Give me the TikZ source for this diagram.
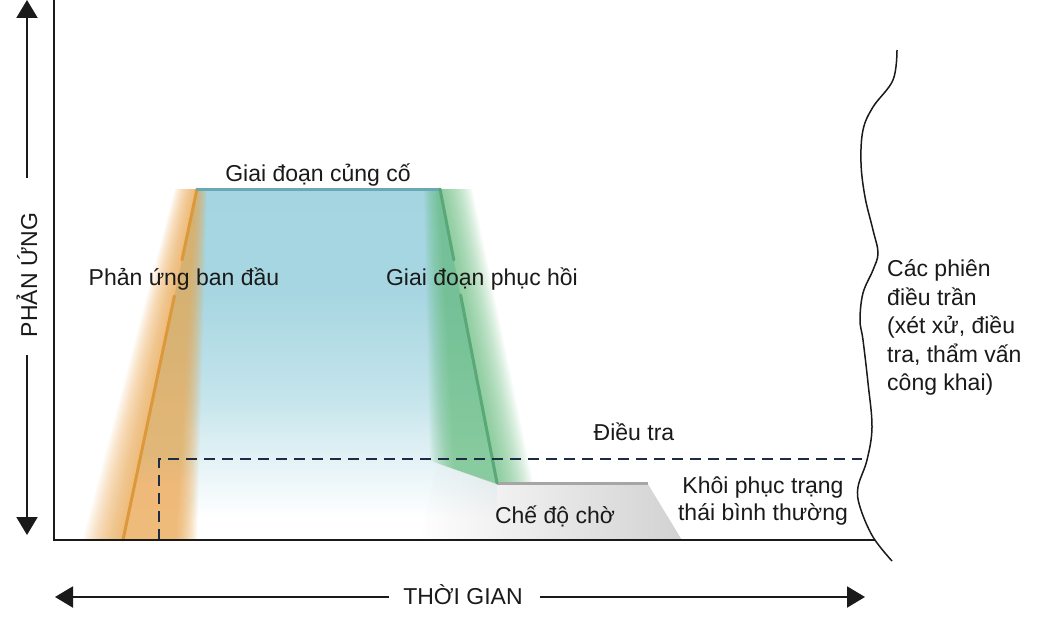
\documentclass[tikz,border=0pt]{standalone}
\usepackage{fontspec}
\setmainfont{Liberation Sans}
\usetikzlibrary{arrows.meta,fadings}
\definecolor{blueC}{HTML}{A2D4E0}
\definecolor{orangeLine}{HTML}{DC993C}
\definecolor{orangeGlow}{HTML}{EFAA50}
\definecolor{greenLine}{HTML}{5AA878}
\definecolor{greenGlow}{HTML}{68C080}
\definecolor{tealLine}{HTML}{68A9B5}
\definecolor{dashC}{HTML}{1E2B47}
\definecolor{grayC}{HTML}{D2D2D2}
\definecolor{grayLine}{HTML}{A6A6A6}
\definecolor{inkC}{HTML}{1A1A1A}
\pgfdeclareverticalshading{bluefade}{100bp}{color(0bp)=(white); color(28bp)=(white); color(36bp)=(blueC!28); color(45bp)=(blueC!62); color(60bp)=(blueC!95); color(100bp)=(blueC)}
\tikzfading[name=grayfadeop, left color=transparent!100, middle color=transparent!20, right color=transparent!0]
\begin{document}
\begin{tikzpicture}[x=1pt,y=-1pt,
  lbl/.style={font=\fontsize{23}{28.5}\selectfont, inner sep=0pt, anchor=base, text=inkC},
  lblw/.style={lbl, anchor=base west},
  arr/.style={line width=2pt, inkC, -{Triangle[width=21pt,length=18pt]}},
  stage/.style={line width=3pt, line cap=round}]
\useasboundingbox (0,0) rectangle (1038,618);
\fill[white] (0,0) rectangle (1038,618);

% blue body
\shade[shading=bluefade] (197,189) -- (440,189) -- (497,483) -- (497,540) -- (123,540) -- cycle;

% orange glow
\foreach \k in {1,...,20}{
  \pgfmathsetmacro\f{\k/20}
  \fill[orangeGlow, opacity=0.062] ({197-22*\f},189) -- ({195+12*\f},189) -- ({175+22*\f},540) -- ({123-40*\f},540) -- cycle;
}
% green glow (lower edge follows the standby wedge)
\foreach \k in {1,...,20}{
  \pgfmathsetmacro\f{\k/20}
  \pgfmathsetmacro\xl{456-26*\f}
  \pgfmathsetmacro\yl{463+0.35*(\xl-437)}
  \fill[greenGlow, opacity=0.058] ({440-16*\f},189) -- ({440+32*\f},189) -- ({497+36*\f},483) -- (497,484) -- (\xl,\yl) -- cycle;
}

% gray standby region
\fill[grayC, path fading=grayfadeop] (437,463) -- (497,484) -- (648,484) -- (682,540) -- (420,540) -- cycle;

% named points
\coordinate (oB) at (123,540);
\coordinate (oG1) at (174.4,296);
\coordinate (oG2) at (182,260);
\coordinate (tL) at (197,189);
\coordinate (tR) at (440,189);
\coordinate (gG1) at (453.8,260);
\coordinate (gG2) at (460.6,295);
\coordinate (gB) at (497,483);
\coordinate (sR) at (648,483);

\draw[grayLine, line width=3pt] (gB) -- (sR);
\draw[stage, orangeLine] (oB) -- (oG1);
\draw[stage, orangeLine] (oG2) -- (tL);
\draw[stage, tealLine] (tL) -- (tR);
\draw[stage, greenLine] (tR) -- (gG1);
\draw[stage, greenLine] (gG2) -- (gB);

% dashed investigation line
\coordinate (d0) at (159,540);
\coordinate (d1) at (159,459);
\coordinate (d2) at (862,459);
\draw[dashC, line width=2pt, dash pattern=on 11pt off 7pt] (d0) -- (d1) -- (d2);

% frame
\coordinate (fTop) at (54,0);
\coordinate (fO) at (54,540);
\coordinate (fEnd) at (875,540);
\draw[inkC, line width=1.6pt] (fTop) -- (fO) -- (fEnd);

% wavy boundary
\draw[inkC, line width=1.5pt] plot[smooth, tension=0.6] coordinates {(897,50) (893,80) (873,107) (863,130) (861,163) (865,197) (873,230) (878,253) (873,270) (863,293) (860,320) (863,340) (868,383) (872,427) (867,460) (858,487) (860,507) (873,537) (892,561)};

% axis arrows
\node[lbl, rotate=90] (yl) at (37,275) {PHẢN ỨNG};
\coordinate (yu0) at (27,178);
\coordinate (yu1) at (27,0);
\coordinate (yd0) at (27,355);
\coordinate (yd1) at (27,535);
\draw[arr] (yu0) -- (yu1);
\draw[arr] (yd0) -- (yd1);

\node[lbl] (xl) at (463,604) {THỜI GIAN};
\coordinate (xa0) at (389,597);
\coordinate (xa1) at (55,597);
\coordinate (xb0) at (540,597);
\coordinate (xb1) at (865,597);
\draw[arr] (xa0) -- (xa1);
\draw[arr] (xb0) -- (xb1);

% labels
\node[lbl] (cons) at (318,181) {Giai đoạn củng cố};
\node[lbl] (init) at (184,285) {Phản ứng ban đầu};
\node[lbl] (reco) at (482,285) {Giai đoạn phục hồi};
\node[lbl] (inv) at (634,440) {Điều tra};
\node[lbl] (stby) at (555,523) {Chế độ chờ};
\node[lbl] (norm1) at (763,493) {Khôi phục trạng};
\node[lbl] (norm2) at (763,520) {thái bình thường};
\node[lblw] (h1) at (887,276.5) {Các phiên};
\node[lblw] (h2) at (887,305) {điều trần};
\node[lblw] (h3) at (887,333.5) {(xét xử, điều};
\node[lblw] (h4) at (887,362) {tra, thẩm vấn};
\node[lblw] (h5) at (887,390.5) {công khai)};
\end{tikzpicture}
\end{document}
